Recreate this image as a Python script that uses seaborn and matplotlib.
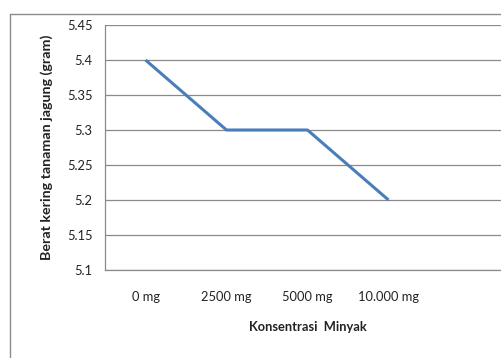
import matplotlib
matplotlib.use("Agg")
import matplotlib.pyplot as plt
import matplotlib.ticker as mticker
from matplotlib.lines import Line2D
import seaborn as sns
import pandas as pd

# Dry weight of maize plants per oil concentration
categories = ["0 mg", "2500 mg", "5000 mg", "10.000 mg"]
weights = [5.4, 5.3, 5.3, 5.2]
y_ticks = [5.1, 5.15, 5.2, 5.25, 5.3, 5.35, 5.4, 5.45]

sns.set_theme(style="white")
plt.rcParams["font.family"] = ["Lato", "DejaVu Sans"]

W, H = 502, 358
fig = plt.figure(figsize=(W / 100, H / 100), dpi=100)
fig.patch.set_facecolor("white")

# chart-area frame (open at right and bottom)
fig.add_artist(Line2D([10 / W, 10 / W], [0, 1 - 14 / H], transform=fig.transFigure,
                      color="#8c8c8c", lw=1.0))
fig.add_artist(Line2D([10 / W, 1], [1 - 14 / H, 1 - 14 / H], transform=fig.transFigure,
                      color="#8c8c8c", lw=1.0))

left, right = 105 / W, 510 / W
bottom, top = 1 - 270 / H, 1 - 25 / H
ax = fig.add_axes([left, bottom, right - left, top - bottom])

df = pd.DataFrame({"Konsentrasi": categories, "Berat": weights})
df["pos"] = range(len(categories))
sns.lineplot(data=df, x="pos", y="Berat", ax=ax, color="#4a7ebb", lw=2.2,
             solid_capstyle="butt")

ax.set_xlim(-0.5, 4.5)
ax.set_ylim(y_ticks[0], y_ticks[-1])
ax.set_yticks(y_ticks)
ax.yaxis.set_major_formatter(mticker.FuncFormatter(lambda v, p: f"{v:g}"))
ax.yaxis.grid(True, color="#8a8a8a", lw=0.9)
ax.xaxis.grid(False)

ax.set_xticks(range(len(categories)))
ax.set_xticklabels(categories)
ax.set_xticks([0.5, 1.5, 2.5, 3.5, 4.5], minor=True)
ax.tick_params(axis="x", which="major", length=0, pad=15, labelsize=9.3, labelcolor="#222222")
ax.tick_params(axis="x", which="minor", length=5, width=0.9, color="#8a8a8a", direction="out")
ax.tick_params(axis="y", which="major", length=5, width=0.9, color="#8a8a8a", direction="out",
               labelsize=9.3, labelcolor="#222222", pad=4)

for s in ["top", "right"]:
    ax.spines[s].set_visible(False)
for s in ["left", "bottom"]:
    ax.spines[s].set_color("#8a8a8a")
    ax.spines[s].set_linewidth(0.9)

ax.set_xlabel("Konsentrasi  Minyak", fontsize=9.3, fontweight="bold", color="#222222", labelpad=13)
ax.set_ylabel("Berat kering tanaman jagung (gram)", fontsize=10.3, fontweight="bold",
              color="#222222", labelpad=10)

fig.savefig("out.png", dpi=100)
